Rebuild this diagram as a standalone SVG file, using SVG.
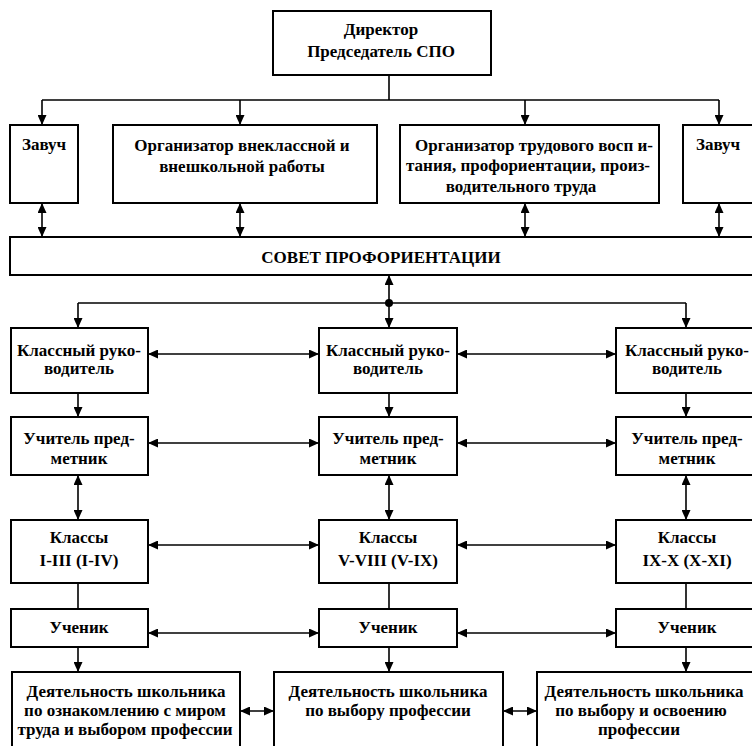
<svg xmlns="http://www.w3.org/2000/svg" width="752" height="746" viewBox="0 0 752 746">
<style>
.b{fill:#fff;stroke:#000;stroke-width:2}
.t{font-family:"Liberation Serif","Times New Roman",serif;font-weight:bold;font-size:17px;fill:#000;text-anchor:middle}
.c{fill:none;stroke:#000;stroke-width:1.6}
.a{marker-end:url(#ah)}
.d{marker-start:url(#ah);marker-end:url(#ah)}
</style>
<defs>
<marker id="ah" viewBox="0 0 10 9" refX="10" refY="4.5" markerWidth="10" markerHeight="9" markerUnits="userSpaceOnUse" orient="auto-start-reverse">
<path d="M0,0 L10,4.5 L0,9 z" fill="#000"/>
</marker>
</defs>
<rect width="752" height="746" fill="#fff"/>

<g id="connectors">
<path class="c" d="M389,75 V100 M42,100 H719"/>
<path class="c a" d="M42,100 V125"/>
<path class="c a" d="M240,100 V125"/>
<path class="c a" d="M525,100 V125"/>
<path class="c a" d="M719,100 V125"/>
<path class="c d" d="M42,203 V237"/>
<path class="c d" d="M240,203 V237"/>
<path class="c d" d="M525,203 V237"/>
<path class="c d" d="M719,203 V237"/>
<path class="c a" d="M389,303 V275"/>
<path class="c a" d="M389,303 V328"/>
<path class="c" d="M78,303 H686"/>
<path class="c a" d="M78,303 V328"/>
<path class="c a" d="M686,303 V328"/>
<circle cx="389" cy="303" r="4" fill="#000"/>
<path class="c a" d="M78,393 V417"/>
<path class="c a" d="M389,393 V417"/>
<path class="c a" d="M686,393 V417"/>
<path class="c d" d="M78,475 V520"/>
<path class="c d" d="M389,475 V520"/>
<path class="c d" d="M686,475 V520"/>
<path class="c" d="M78,583 V609 M389,583 V609 M686,583 V609"/>
<path class="c a" d="M78,647 V672"/>
<path class="c a" d="M389,647 V672"/>
<path class="c a" d="M686,647 V672"/>
<path class="c d" d="M148,354 H319"/>
<path class="c d" d="M457,354 H616"/>
<path class="c d" d="M148,443 H319"/>
<path class="c d" d="M457,443 H616"/>
<path class="c d" d="M148,545 H319"/>
<path class="c d" d="M457,545 H616"/>
<path class="c d" d="M148,633 H319"/>
<path class="c d" d="M457,633 H616"/>
<path class="c d" d="M240,711 H274"/>
<path class="c d" d="M503,711 H537"/>
</g>

<g id="director">
<rect class="b" x="273" y="11" width="218" height="64"/>
<text class="t" x="381" y="35">Директор</text>
<text class="t" x="381" y="57">Председатель СПО</text>
</g>

<g id="zavuch1">
<rect class="b" x="10" y="125" width="68" height="78"/>
<text class="t" x="44" y="150">Завуч</text>
</g>
<g id="org1">
<rect class="b" x="113" y="125" width="264" height="78"/>
<text class="t" x="242" y="151">Организатор внеклассной и</text>
<text class="t" x="242" y="172">внешкольной работы</text>
</g>
<g id="org2">
<rect class="b" x="400" y="125" width="259" height="78"/>
<text class="t" x="534" y="151">Организатор трудового восп и-</text>
<text class="t" x="528" y="171">тания, профориентации, произ-</text>
<text class="t" x="521" y="192">водительного труда</text>
</g>
<g id="zavuch2">
<rect class="b" x="683" y="125" width="80" height="78"/>
<text class="t" x="718" y="150">Завуч</text>
</g>

<g id="council">
<rect class="b" x="10" y="237" width="760" height="38"/>
<text class="t" x="381" y="263">СОВЕТ ПРОФОРИЕНТАЦИИ</text>
</g>

<g id="kr1">
<rect class="b" x="11" y="328" width="137" height="65"/>
<text class="t" x="79" y="356">Классный руко-</text>
<text class="t" x="79" y="374">водитель</text>
</g>
<g id="kr2">
<rect class="b" x="319" y="328" width="138" height="65"/>
<text class="t" x="388" y="356">Классный руко-</text>
<text class="t" x="388" y="374">водитель</text>
</g>
<g id="kr3">
<rect class="b" x="616" y="328" width="150" height="65"/>
<text class="t" x="687" y="356">Классный руко-</text>
<text class="t" x="687" y="374">водитель</text>
</g>

<g id="up1">
<rect class="b" x="11" y="417" width="137" height="58"/>
<text class="t" x="79" y="444">Учитель пред-</text>
<text class="t" x="79" y="464">метник</text>
</g>
<g id="up2">
<rect class="b" x="319" y="417" width="138" height="58"/>
<text class="t" x="388" y="444">Учитель пред-</text>
<text class="t" x="388" y="464">метник</text>
</g>
<g id="up3">
<rect class="b" x="616" y="417" width="150" height="58"/>
<text class="t" x="687" y="444">Учитель пред-</text>
<text class="t" x="687" y="464">метник</text>
</g>

<g id="cl1">
<rect class="b" x="11" y="520" width="137" height="63"/>
<text class="t" x="79" y="543">Классы</text>
<text class="t" x="79" y="566">I-III (I-IV)</text>
</g>
<g id="cl2">
<rect class="b" x="319" y="520" width="138" height="63"/>
<text class="t" x="388" y="543">Классы</text>
<text class="t" x="388" y="566">V-VIII (V-IX)</text>
</g>
<g id="cl3">
<rect class="b" x="616" y="520" width="150" height="63"/>
<text class="t" x="687" y="543">Классы</text>
<text class="t" x="687" y="566">IX-X (X-XI)</text>
</g>

<g id="st1">
<rect class="b" x="11" y="609" width="137" height="38"/>
<text class="t" x="79" y="633">Ученик</text>
</g>
<g id="st2">
<rect class="b" x="319" y="609" width="138" height="38"/>
<text class="t" x="388" y="633">Ученик</text>
</g>
<g id="st3">
<rect class="b" x="616" y="609" width="150" height="38"/>
<text class="t" x="687" y="633">Ученик</text>
</g>

<g id="act1">
<rect class="b" x="12" y="672" width="228" height="90"/>
<text class="t" x="126" y="697">Деятельность школьника</text>
<text class="t" x="125" y="716">по ознакомлению с миром</text>
<text class="t" x="125" y="735">труда и выбором профессии</text>
</g>
<g id="act2">
<rect class="b" x="274" y="672" width="229" height="90"/>
<text class="t" x="388" y="697">Деятельность школьника</text>
<text class="t" x="388" y="716">по выбору профессии</text>
</g>
<g id="act3">
<rect class="b" x="537" y="672" width="230" height="90"/>
<text class="t" x="644" y="697">Деятельность школьника</text>
<text class="t" x="641" y="716">по выбору и освоению</text>
<text class="t" x="639" y="735">профессии</text>
</g>
</svg>
